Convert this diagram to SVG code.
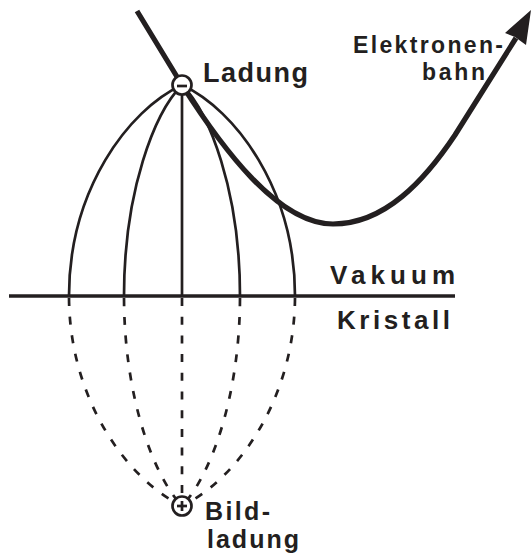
<svg xmlns="http://www.w3.org/2000/svg" width="531" height="556" viewBox="0 0 531 556">
<style>
.fl{fill:none;stroke:#231f20;stroke-width:2.7}
.dl{fill:none;stroke:#231f20;stroke-width:2.7;stroke-dasharray:8 10.7;stroke-dashoffset:-2}
.t{font-family:"Liberation Sans",Arial,sans-serif;font-weight:bold;fill:#231f20}
.ch{fill:#fff;stroke:#231f20;stroke-width:2.7}
</style>
<rect width="531" height="556" fill="#fff"/>
<g id="connectors">
<g id="fieldlines-vacuum">
<path class="fl" d="M182,85 C128,110 69,190 69,296"/>
<path class="fl" d="M182,85 C155,112 124,190 124,296"/>
<path class="fl" d="M182,85 L182,296"/>
<path class="fl" d="M182,85 C209,112 240,190 240,296"/>
<path class="fl" d="M182,85 C236,110 295,190 295,296"/>
</g>
<g id="fieldlines-crystal">
<path class="dl" d="M69,296 C69,400 128,480 182,506"/>
<path class="dl" d="M124,296 C124,400 155,478 182,506"/>
<path class="dl" d="M182,296 L182,506"/>
<path class="dl" d="M240,296 C240,400 209,478 182,506"/>
<path class="dl" d="M295,296 C295,400 236,480 182,506"/>
</g>
<g id="electron-path">
<path d="M137,11 L182,85 C222,148 278,224 333,224 C385,224 425,180 455,135 L516,38" fill="none" stroke="#231f20" stroke-width="5.2" stroke-linejoin="round"/>
<polygon points="531,10 505,33 515,37 526,45" fill="#231f20"/>
</g>
</g>
<g id="surface">
<line x1="9" y1="296" x2="455" y2="296" stroke="#231f20" stroke-width="3.3"/>
<text class="t" x="330" y="284" font-size="26" textLength="125" lengthAdjust="spacing">Vakuum</text>
<text class="t" x="337" y="329" font-size="26" textLength="113" lengthAdjust="spacing">Kristall</text>
</g>
<g id="ladung">
<circle class="ch" cx="182" cy="85" r="9.5"/>
<line x1="177" y1="86" x2="187" y2="86" stroke="#231f20" stroke-width="2.7"/>
<text class="t" x="203" y="82" font-size="27" textLength="105" lengthAdjust="spacing">Ladung</text>
</g>
<g id="bildladung">
<circle class="ch" cx="182" cy="506" r="9.5"/>
<line x1="177" y1="506" x2="187" y2="506" stroke="#231f20" stroke-width="2.7"/>
<line x1="182" y1="501" x2="182" y2="511" stroke="#231f20" stroke-width="2.7"/>
<text class="t" x="205" y="520" font-size="25" textLength="65" lengthAdjust="spacing">Bild-</text>
<text class="t" x="207" y="548" font-size="25" textLength="92" lengthAdjust="spacing">ladung</text>
</g>
<g id="elektronenbahn">
<text class="t" x="353" y="53" font-size="23" textLength="150" lengthAdjust="spacing">Elektronen-</text>
<text class="t" x="422" y="80" font-size="23" textLength="63" lengthAdjust="spacing">bahn</text>
</g>
</svg>
